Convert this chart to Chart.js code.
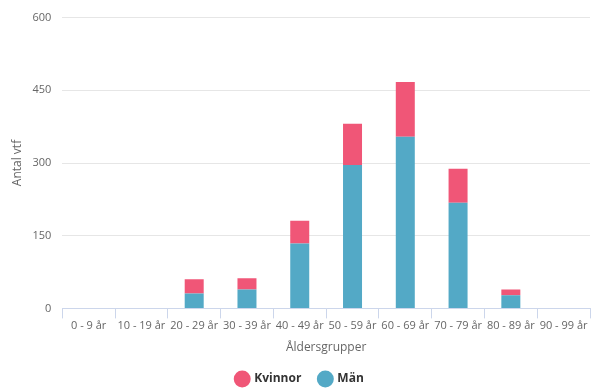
<!DOCTYPE html>
<html>
<head>
<meta charset="utf-8">
<script src="https://cdn.jsdelivr.net/npm/chart.js@4/dist/chart.umd.min.js"></script>
<style>
html,body{margin:0;padding:0;background:#fff;}
#wrap{width:598px;height:391px;position:relative;}
</style>
</head>
<body>
<div id="wrap"><canvas id="c"></canvas></div>
<script>
const categories = ["0 - 9 år","10 - 19 år","20 - 29 år","30 - 39 år","40 - 49 år","50 - 59 år","60 - 69 år","70 - 79 år","80 - 89 år","90 - 99 år"];
const kvinnor = [0, 0, 29, 23, 47, 85, 113, 70, 12, 0];
const man = [0, 0, 31, 39, 134, 296, 354, 218, 27, 0];
const yTicks = [0, 150, 300, 450, 600];

const FONT = "'Open Sans', 'DejaVu Sans', sans-serif";
Chart.defaults.font.family = FONT;

new Chart(document.getElementById('c'), {
  type: 'bar',
  data: {
    labels: categories,
    datasets: [
      { label: 'Män', data: man, backgroundColor: '#53a9c6', borderWidth: 0, stack: 's' },
      { label: 'Kvinnor', data: kvinnor, backgroundColor: '#f05677', borderWidth: 0, stack: 's' }
    ]
  },
  options: {
    responsive: true,
    maintainAspectRatio: false,
    animation: false,
    layout: { padding: { left: 10, right: 8, top: 0, bottom: -4 } },
    datasets: { bar: { categoryPercentage: 1, barPercentage: 0.36 } },
    plugins: {
      legend: {
        position: 'bottom',
        reverse: true,
        labels: {
          usePointStyle: true, pointStyle: 'circle', boxWidth: 12, boxHeight: 12,
          color: '#333', font: { size: 12, weight: 'bold', family: FONT }, padding: 18
        }
      },
      tooltip: { enabled: false }
    },
    scales: {
      x: {
        stacked: true,
        offset: true,
        grid: { display: true, drawOnChartArea: false, drawTicks: true, tickLength: 10, color: '#ccd6eb', offset: true },
        border: { color: '#ccd6eb' },
        ticks: { color: '#666', font: { size: 11 }, maxRotation: 0, autoSkip: false, padding: 1 },
        title: { display: true, text: 'Åldersgrupper', color: '#666', font: { size: 12 }, padding: { top: 7, bottom: 0 } }
      },
      y: {
        stacked: true,
        min: 0, max: 600,
        afterBuildTicks: (s) => { s.ticks = yTicks.map(v => ({ value: v })); },
        grid: { color: '#e6e6e6', drawTicks: false },
        border: { display: false },
        ticks: { color: '#666', font: { size: 11 }, padding: 11 },
        title: { display: true, text: 'Antal vtf', color: '#666', font: { size: 12 }, padding: { top: 0, bottom: -3 } }
      }
    }
  }
});
</script>
</body>
</html>
